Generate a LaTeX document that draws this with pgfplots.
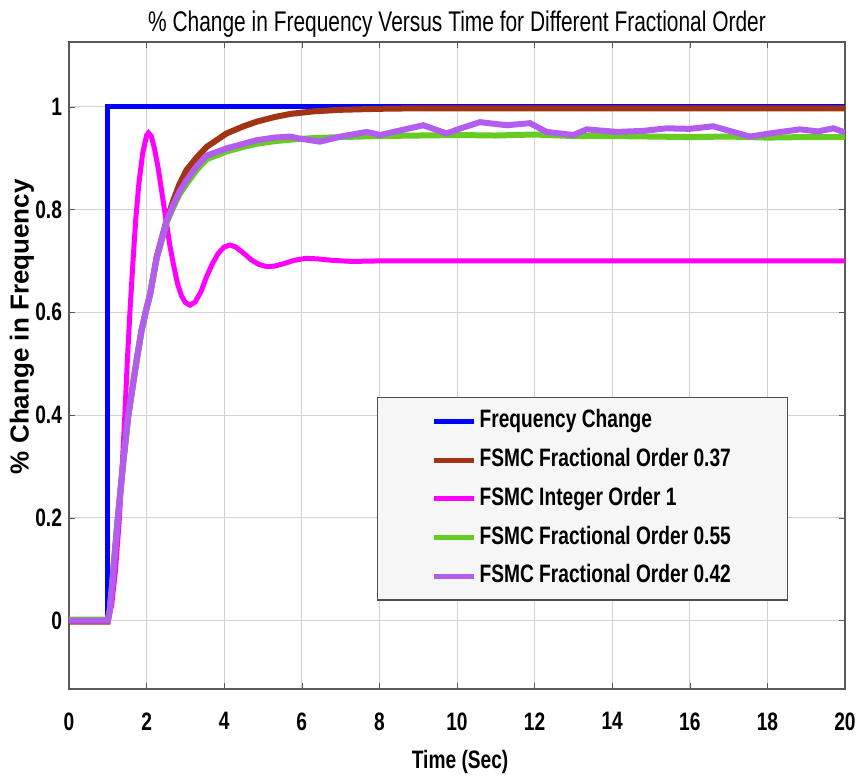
\documentclass[border=0pt]{standalone}
\usepackage{fontspec}
\setmainfont{Liberation Sans}
\newfontfamily\narrowfont{Liberation Sans}[FakeStretch=0.76]
\newfontfamily\titlefont{Liberation Sans}[FakeStretch=0.737]
\usepackage{pgfplots}
\pgfplotsset{compat=1.18}

\definecolor{fblue}{RGB}{0,0,255}
\definecolor{fbrown}{RGB}{162,52,20}
\definecolor{fmag}{RGB}{255,0,255}
\definecolor{fgreen}{RGB}{102,204,34}
\definecolor{fpurple}{RGB}{178,92,240}

\begin{document}
\begin{tikzpicture}
% page frame: axis box sits at (0,0)--(388pt,323.5pt)
\useasboundingbox (-34.5pt,-43.5pt) rectangle (394pt,344.5pt);
\begin{axis}[
    width=388pt, height=323.5pt, scale only axis,
    xmin=0, xmax=20, ymin=-0.133, ymax=1.126,
    xtick={0,2,4,6,8,10,12,14,16,18,20},
    ytick={0,0.2,0.4,0.6,0.8,1},
    grid=major,
    grid style={gray!35, line width=0.4pt},
    axis line style={gray!70!black, line width=0.6pt},
    tick style={gray!70!black}, tick align=inside, major tick length=3pt,
    ticklabel style={font=\narrowfont\bfseries\fontsize{12.6}{14}\selectfont},
    /pgf/number format/assume math mode=true,
    xticklabel style={yshift=-8.2pt},
    every axis title shift=0pt,
    title={\% Change in Frequency Versus Time for Different Fractional Order},
    title style={font=\titlefont\fontsize{14.2}{16}\selectfont, at={(axis description cs:0.5,1.0155)}, anchor=base, inner sep=0pt},
    xlabel={Time (Sec)},
    xlabel style={font=\narrowfont\bfseries\fontsize{12.6}{14}\selectfont, at={(axis description cs:0.504,-0.1221)}, anchor=base, inner sep=0pt},
    ylabel={\% Change in Frequency},
    ylabel style={font=\bfseries\fontsize{13}{15}\selectfont, at={(axis description cs:-0.0606,0.56)}, anchor=center, inner sep=0pt},
    legend style={at={(axis description cs:0.397,0.451)}, anchor=north west,
        fill=gray!7, draw=gray!60!black, line width=0.6pt,
        font=\narrowfont\bfseries\fontsize{12.6}{15}\selectfont,
        inner xsep=27pt, inner ysep=4pt, row sep=3.9pt, column sep=0pt,
        nodes={text height=9.5pt, text depth=3pt, inner sep=1.5pt}},
    legend cell align=left,
    legend image code/.code={\draw[#1, line width=2.5pt] (0pt,0pt) -- (20pt,0pt);},
]

% Frequency Change (step)
\addplot[fblue, line width=2.5pt] coordinates {(0,0) (1,0) (1,1) (20,1)};

% FSMC Fractional Order 0.37
\addplot[fbrown, line width=3pt] coordinates {
    (0,-0.002) (1,-0.002) (1.05,0.02) (1.1,0.06) (1.18,0.13) (1.26,0.2)
    (1.4,0.31) (1.53,0.4) (1.65,0.46) (1.75,0.51) (1.87,0.565) (1.99,0.605)
    (2.09,0.635) (2.26,0.708) (2.52,0.78) (2.69,0.818) (2.85,0.85) (3.03,0.877)
    (3.3,0.902) (3.55,0.922) (4.06,0.948) (4.5,0.962) (4.84,0.971) (5.3,0.98)
    (5.7,0.986) (6.3,0.991) (6.98,0.994) (8,0.996) (9,0.997) (20,0.997)
};

% FSMC Integer Order 1
\addplot[fmag, line width=2.5pt] coordinates {
    (0,0) (1,0) (1.1,0.03) (1.2,0.10) (1.3,0.20) (1.37,0.30) (1.44,0.40)
    (1.5,0.50) (1.57,0.60) (1.65,0.70) (1.72,0.78) (1.8,0.85) (1.9,0.91)
    (2.0,0.944) (2.05,0.949) (2.12,0.943) (2.2,0.92) (2.3,0.88) (2.4,0.83)
    (2.5,0.78) (2.6,0.73) (2.7,0.69) (2.8,0.655) (2.9,0.632) (3.0,0.619)
    (3.12,0.614) (3.25,0.62) (3.4,0.64) (3.55,0.67) (3.7,0.695) (3.85,0.715)
    (4.0,0.727) (4.15,0.731) (4.3,0.727) (4.5,0.715) (4.7,0.702) (4.9,0.693)
    (5.1,0.689) (5.3,0.690) (5.5,0.694) (5.8,0.701) (6.1,0.705) (6.4,0.704)
    (6.8,0.701) (7.3,0.699) (8,0.70) (20,0.70)
};

% FSMC Fractional Order 0.55
\addplot[fgreen, line width=3pt] coordinates {
    (0,0.002) (1,0.002) (1.05,0.02) (1.1,0.06) (1.18,0.13) (1.26,0.2)
    (1.4,0.31) (1.53,0.4) (1.65,0.46) (1.75,0.51) (1.87,0.565) (1.99,0.605)
    (2.09,0.635) (2.26,0.705) (2.52,0.775) (2.69,0.805) (2.85,0.83) (3.03,0.85)
    (3.3,0.878) (3.55,0.898) (4.06,0.913) (4.5,0.922) (4.84,0.928) (5.3,0.933)
    (5.7,0.936) (6.3,0.939) (7,0.941) (8,0.943) (9,0.944) (10,0.945) (11,0.944)
    (12,0.946) (13,0.943) (14,0.943) (15,0.942) (16,0.941) (17,0.942)
    (18,0.940) (19,0.941) (20,0.941)
};

% FSMC Fractional Order 0.42
\addplot[fpurple, line width=3pt] coordinates {
    (0,0) (1,0) (1.05,0.02) (1.1,0.06) (1.18,0.13) (1.26,0.2)
    (1.4,0.31) (1.53,0.4) (1.65,0.46) (1.75,0.51) (1.87,0.565) (1.99,0.605)
    (2.09,0.635) (2.26,0.706) (2.52,0.778) (2.69,0.81) (2.85,0.835) (3.03,0.857)
    (3.3,0.885) (3.55,0.905) (4.06,0.919) (4.5,0.928) (4.84,0.935) (5.3,0.94)
    (5.7,0.942) (5.95,0.938) (6.47,0.932) (7.0,0.942) (7.67,0.951) (8.02,0.945)
    (8.6,0.955) (9.13,0.964) (9.73,0.948) (10.1,0.958) (10.59,0.970) (11.28,0.964)
    (11.88,0.968) (12.31,0.951) (13.0,0.945) (13.34,0.956) (14.12,0.951)
    (14.8,0.953) (15.4,0.958) (16.0,0.957) (16.6,0.962) (17.12,0.951)
    (17.55,0.942) (18.15,0.949) (18.84,0.956) (19.3,0.952) (19.7,0.958) (20,0.95)
};

\legend{Frequency Change, FSMC Fractional Order 0.37, FSMC Integer Order 1,
        FSMC Fractional Order 0.55, FSMC Fractional Order 0.42}
\end{axis}
\end{tikzpicture}
\end{document}
